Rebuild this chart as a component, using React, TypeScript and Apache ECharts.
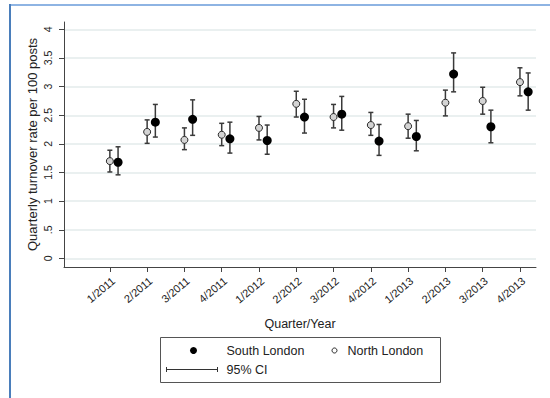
import React, { useEffect, useRef } from "react";
import * as echarts from "echarts";

const categories = ["1/2011", "2/2011", "3/2011", "4/2011", "1/2012", "2/2012", "3/2012", "4/2012", "1/2013", "2/2013", "3/2013", "4/2013"];
const northMean = [1.70, 2.21, 2.07, 2.16, 2.28, 2.70, 2.47, 2.33, 2.31, 2.72, 2.75, 3.08];
const northLow = [1.51, 2.01, 1.90, 1.97, 2.07, 2.47, 2.28, 2.15, 2.10, 2.49, 2.52, 2.84];
const northHigh = [1.89, 2.42, 2.28, 2.36, 2.48, 2.92, 2.69, 2.55, 2.52, 2.94, 2.99, 3.33];
const southMean = [1.68, 2.38, 2.43, 2.09, 2.06, 2.47, 2.52, 2.05, 2.13, 3.22, 2.30, 2.91];
const southLow = [1.46, 2.12, 2.15, 1.84, 1.82, 2.19, 2.24, 1.80, 1.88, 2.91, 2.02, 2.59];
const southHigh = [1.95, 2.69, 2.77, 2.38, 2.33, 2.78, 2.83, 2.34, 2.41, 3.59, 2.59, 3.24];
const yTicks = [0, 0.5, 1, 1.5, 2, 2.5, 3, 3.5, 4];
const yTickLabels = ["0", ".5", "1", "1.5", "2", "2.5", "3", "3.5", "4"];

const FONT = "Liberation Sans, Arial, sans-serif";
const SOUTH_OFFSET = 0.22;

const xPositions = categories.map((_, i) => i + 1);

const errorRender = (params: any, api: any) => {
  const x = api.value(0);
  const p1 = api.coord([x, api.value(1)]);
  const p2 = api.coord([x, api.value(2)]);
  const w = 2.5;
  const style = { stroke: "#3a3a3a", lineWidth: 1.5 };
  return {
    type: "group",
    children: [
      { type: "line", shape: { x1: p1[0], y1: p1[1], x2: p2[0], y2: p2[1] }, style },
      { type: "line", shape: { x1: p1[0] - w, y1: p1[1], x2: p1[0] + w, y2: p1[1] }, style },
      { type: "line", shape: { x1: p2[0] - w, y1: p2[1], x2: p2[0] + w, y2: p2[1] }, style },
    ],
  };
};

export default function App() {
  const ref = useRef<HTMLDivElement>(null);
  useEffect(() => {
    document.body.style.margin = "0";
    const chart = echarts.init(ref.current!, undefined, { renderer: "svg" });
    const option: any = {
      animation: false,
      backgroundColor: "#ffffff",
      textStyle: { fontFamily: FONT },
      grid: { left: 64, top: 22, right: 14, bottom: 131, containLabel: false },
      xAxis: {
        type: "value",
        min: -0.23,
        max: 12.43,
        name: "Quarter/Year",
        nameLocation: "middle",
        nameGap: 50,
        nameMoveOverlap: false,
        nameTextStyle: { fontSize: 12.5, color: "#222", fontFamily: FONT },
        axisLine: { show: true, onZero: false, lineStyle: { color: "#444", width: 1 } },
        axisTick: { show: true, length: 5, customValues: xPositions, lineStyle: { color: "#444" } },
        axisLabel: {
          customValues: xPositions,
          formatter: (v: number) => categories[Math.round(v) - 1] ?? "",
          rotate: 40,
          align: "right",
          verticalAlign: "top",
          fontSize: 11,
          color: "#222",
          margin: 8,
          fontFamily: FONT,
        },
        splitLine: { show: false },
      },
      yAxis: {
        type: "value",
        min: -0.15,
        max: 4.13,
        name: "Quarterly turnover rate per 100 posts",
        nameLocation: "middle",
        nameRotate: 90,
        nameGap: 25,
        nameMoveOverlap: false,
        nameTextStyle: { fontSize: 13, color: "#222", fontFamily: FONT },
        axisLine: { show: true, onZero: false, lineStyle: { color: "#444", width: 1 } },
        axisTick: { show: true, length: 5, customValues: yTicks, lineStyle: { color: "#444" } },
        axisLabel: {
          customValues: yTicks,
          formatter: (v: number) => {
            const i = yTicks.findIndex((t) => Math.abs(t - v) < 1e-6);
            return i >= 0 ? yTickLabels[i] : "";
          },
          rotate: 90,
          fontSize: 10.5,
          color: "#222",
          margin: 11,
          fontFamily: FONT,
        },
        splitLine: { show: false },
      },
      series: [
        {
          type: "line",
          data: [],
          silent: true,
          z: 0,
          markLine: {
            silent: true,
            z: 0,
            symbol: "none",
            label: { show: false },
            lineStyle: { color: "#eaf0f0", width: 2, type: "solid" },
            data: yTicks.map((t) => ({ yAxis: t })),
          },
        },
        {
          name: "North London CI",
          type: "custom",
          renderItem: errorRender,
          encode: { x: 0, y: [1, 2] },
          data: xPositions.map((x, i) => [x, northLow[i], northHigh[i]]),
          z: 2,
        },
        {
          name: "South London CI",
          type: "custom",
          renderItem: errorRender,
          encode: { x: 0, y: [1, 2] },
          data: xPositions.map((x, i) => [x + SOUTH_OFFSET, southLow[i], southHigh[i]]),
          z: 2,
        },
        {
          name: "North London",
          type: "scatter",
          symbol: "circle",
          symbolSize: 7,
          itemStyle: { color: "#d4d4d4", borderColor: "#2a2a2a", borderWidth: 1, opacity: 1 },
          data: xPositions.map((x, i) => [x, northMean[i]]),
          z: 3,
        },
        {
          name: "South London",
          type: "scatter",
          symbol: "circle",
          symbolSize: 9,
          itemStyle: { color: "#000000", opacity: 1 },
          data: xPositions.map((x, i) => [x + SOUTH_OFFSET, southMean[i]]),
          z: 3,
        },
      ],
      graphic: [
        { type: "line", shape: { x1: 9, y1: 5, x2: 550, y2: 5 }, style: { stroke: "#8eb4e3", lineWidth: 2 } },
        { type: "line", shape: { x1: 10, y1: 4, x2: 10, y2: 398 }, style: { stroke: "#4a7ebb", lineWidth: 2 } },
        {
          type: "group",
          left: 160,
          top: 337,
          children: [
            { type: "rect", shape: { x: 0, y: 0, width: 280, height: 45 }, style: { fill: "#fff", stroke: "#555", lineWidth: 1 } },
            { type: "circle", shape: { cx: 33, cy: 13, r: 3.5 }, style: { fill: "#000" } },
            { type: "text", x: 66, y: 13, style: { text: "South London", font: `12.5px ${FONT}`, fill: "#222", verticalAlign: "middle" } },
            { type: "circle", shape: { cx: 174, cy: 13, r: 2.5 }, style: { fill: "#fff", stroke: "#222", lineWidth: 1 } },
            { type: "text", x: 187, y: 13, style: { text: "North London", font: `12.5px ${FONT}`, fill: "#222", verticalAlign: "middle" } },
            { type: "line", shape: { x1: 6, y1: 32, x2: 57, y2: 32 }, style: { stroke: "#333", lineWidth: 1 } },
            { type: "line", shape: { x1: 6, y1: 29.5, x2: 6, y2: 34.5 }, style: { stroke: "#333", lineWidth: 1 } },
            { type: "line", shape: { x1: 57, y1: 29.5, x2: 57, y2: 34.5 }, style: { stroke: "#333", lineWidth: 1 } },
            { type: "text", x: 66, y: 32, style: { text: "95% CI", font: `12.5px ${FONT}`, fill: "#222", verticalAlign: "middle" } },
          ],
        },
      ],
    };
    chart.setOption(option);
    return () => chart.dispose();
  }, []);
  return <div ref={ref} style={{ position: "absolute", left: 0, top: 0, width: 550, height: 398 }} />;
}
